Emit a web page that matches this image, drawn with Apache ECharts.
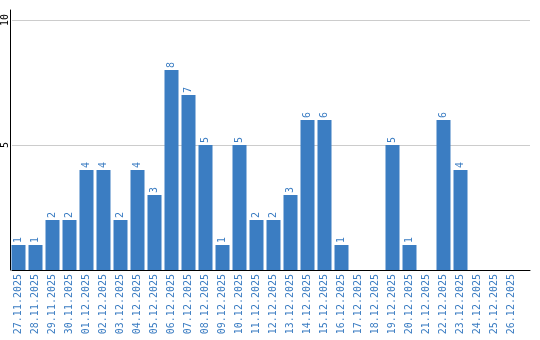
<!DOCTYPE html>
<html><head><meta charset="utf-8">
<script src="https://cdn.jsdelivr.net/npm/echarts@6/dist/echarts.min.js"></script>
<style>html,body{margin:0;padding:0;background:#fff}#c{width:540px;height:340px}</style>
</head><body><div id="c"></div>
<script>
const categories = ['27.11.2025','28.11.2025','29.11.2025','30.11.2025','01.12.2025','02.12.2025','03.12.2025','04.12.2025','05.12.2025','06.12.2025','07.12.2025','08.12.2025','09.12.2025','10.12.2025','11.12.2025','12.12.2025','13.12.2025','14.12.2025','15.12.2025','16.12.2025','17.12.2025','18.12.2025','19.12.2025','20.12.2025','21.12.2025','22.12.2025','23.12.2025','24.12.2025','25.12.2025','26.12.2025'];
const values = [1,1,2,2,4,4,2,4,3,8,7,5,1,5,2,2,3,6,6,1,0,0,5,1,0,6,4,0,0,0];
const yTicks = [0, 5, 10];

const blue = '#3a7cc2';
const font = 'DejaVu Sans Mono';
const chart = echarts.init(document.getElementById('c'), null, {renderer:'canvas'});
chart.setOption({
  animation: false,
  grid: [
    {left: 10, right: 10, top: 20, bottom: 70, containLabel: false},
    {left: 10, width: 510, top: 10, bottom: 70, containLabel: false}
  ],
  xAxis: [
    {gridIndex: 0, type: 'category', data: categories, boundaryGap: true,
     axisLine: {show: true, lineStyle: {color: '#000', width: 1}},
     axisTick: {show: false}, axisLabel: {show: false}, splitLine: {show: false}},
    {gridIndex: 1, type: 'category', data: categories, boundaryGap: true,
     axisLine: {show: false}, axisTick: {show: false},
     axisLabel: {show: true, interval: 0, rotate: 90, color: blue, fontFamily: font, fontSize: 10, margin: 4}}
  ],
  yAxis: [
    {gridIndex: 0, type: 'value', min: yTicks[0], max: yTicks[yTicks.length-1], interval: 5,
     axisLine: {show: false}, axisTick: {show: false},
     axisLabel: {show: true, rotate: 90, color: '#000', fontFamily: font, fontSize: 10, margin: 2,
       formatter: v => yTicks.includes(v) && v !== 0 ? String(v) : ''},
     splitLine: {show: true, lineStyle: {color: '#cccccc', width: 1}}},
    {gridIndex: 1, type: 'value', min: 0, max: 10.4,
     axisLine: {show: true, lineStyle: {color: '#000', width: 1}},
     axisTick: {show: false}, axisLabel: {show: false}, splitLine: {show: false}}
  ],
  series: [{
    type: 'bar', xAxisIndex: 1, yAxisIndex: 1, data: values, barWidth: 14,
    itemStyle: {color: '#3b7dc2'},
    label: {show: true, position: 'top', rotate: 90, align: 'left', verticalAlign: 'middle', distance: 2,
      color: blue, fontFamily: font, fontSize: 10,
      formatter: p => p.value ? String(p.value) : ''}
  }]
});
</script></body></html>
